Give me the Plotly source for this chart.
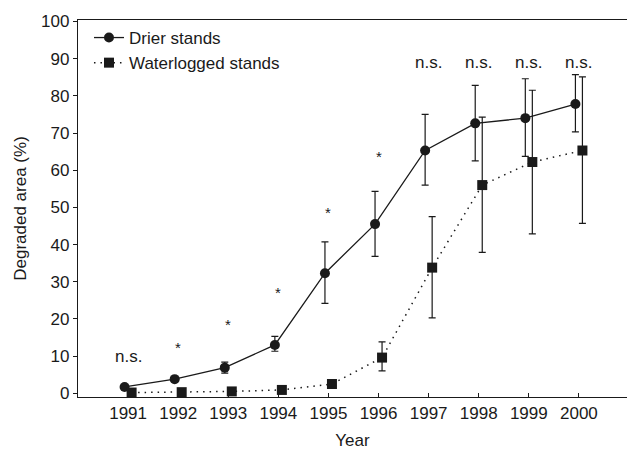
import numpy as np
import plotly.graph_objects as go

years = [1991, 1992, 1993, 1994, 1995, 1996, 1997, 1998, 1999, 2000]

drier = [1.7, 3.8, 6.9, 13.0, 32.3, 45.5, 65.3, 72.6, 74.0, 77.8]
drier_up = [0.0, 0.0, 1.5, 2.3, 8.4, 8.8, 9.7, 10.2, 10.6, 7.9]
drier_dn = [0.0, 0.0, 1.5, 1.7, 8.1, 8.7, 9.3, 10.1, 10.3, 7.5]

water = [0.2, 0.3, 0.5, 0.9, 2.5, 9.6, 33.8, 56.0, 62.2, 65.3]
water_up = [0.0, 0.0, 0.0, 0.0, 0.0, 4.2, 13.7, 18.3, 19.3, 19.8]
water_dn = [0.0, 0.0, 0.0, 0.0, 0.0, 3.6, 13.5, 18.1, 19.3, 19.6]

sig_labels = ["n.s.", "*", "*", "*", "*", "*", "n.s.", "n.s.", "n.s.", "n.s."]
sig_y = [9.9, 12.4, 18.5, 27.0, 48.6, 63.6, 89.0, 89.0, 89.0, 89.0]

ink = "#1a1a1a"
font_family = "Liberation Sans, Arial, sans-serif"
fs = 17
yr = np.array(years, dtype=float)

fig = go.Figure()
fig.add_trace(go.Scatter(
    x=yr - 0.07, y=drier, name="Drier stands", mode="lines+markers",
    line=dict(color=ink, width=1.3, dash="solid"),
    marker=dict(symbol="circle", size=10, color=ink),
    error_y=dict(type="data", symmetric=False, array=drier_up, arrayminus=drier_dn,
                 color=ink, thickness=1.2, width=3.5),
))
fig.add_trace(go.Scatter(
    x=yr + 0.07, y=water, name="Waterlogged stands", mode="lines+markers",
    line=dict(color=ink, width=1.5, dash="1.5px,5px"),
    marker=dict(symbol="square", size=10, color=ink),
    error_y=dict(type="data", symmetric=False, array=water_up, arrayminus=water_dn,
                 color=ink, thickness=1.2, width=3.5),
))

for x, t, y in zip(years, sig_labels, sig_y):
    fig.add_annotation(x=x, y=y, text=t, showarrow=False,
                       font=dict(size=fs if t != "*" else 15, color=ink, family=font_family))

fig.update_layout(
    width=627, height=450,
    margin=dict(l=78, r=0, t=20, b=53),
    paper_bgcolor="white", plot_bgcolor="white",
    font=dict(family=font_family, size=fs, color=ink),
    showlegend=True,
    legend=dict(x=0.02, y=1.0, xanchor="left", yanchor="top",
                bgcolor="rgba(0,0,0,0)", font=dict(size=fs), tracegroupgap=0,
                itemwidth=30),
)
fig.update_xaxes(
    range=[1990, 2000.96], tickmode="array", tickvals=years,
    ticktext=[str(y) for y in years],
    ticks="inside", ticklen=4, tickcolor=ink, tickwidth=1,
    showline=True, linecolor=ink, linewidth=1.3, mirror=True,
    showgrid=False, zeroline=False,
    title=dict(text="Year", standoff=16, font=dict(size=fs)),
    tickfont=dict(size=fs),
)
fig.update_yaxes(
    range=[-1, 100.4], tickmode="array", tickvals=list(range(0, 101, 10)),
    ticks="outside", ticklen=4, tickcolor=ink, tickwidth=1,
    showline=True, linecolor=ink, linewidth=1.3,
    showgrid=False, zeroline=False,
    title=dict(text="Degraded area (%)", standoff=10, font=dict(size=fs)),
    tickfont=dict(size=fs),
)

fig.write_html("out.html")
